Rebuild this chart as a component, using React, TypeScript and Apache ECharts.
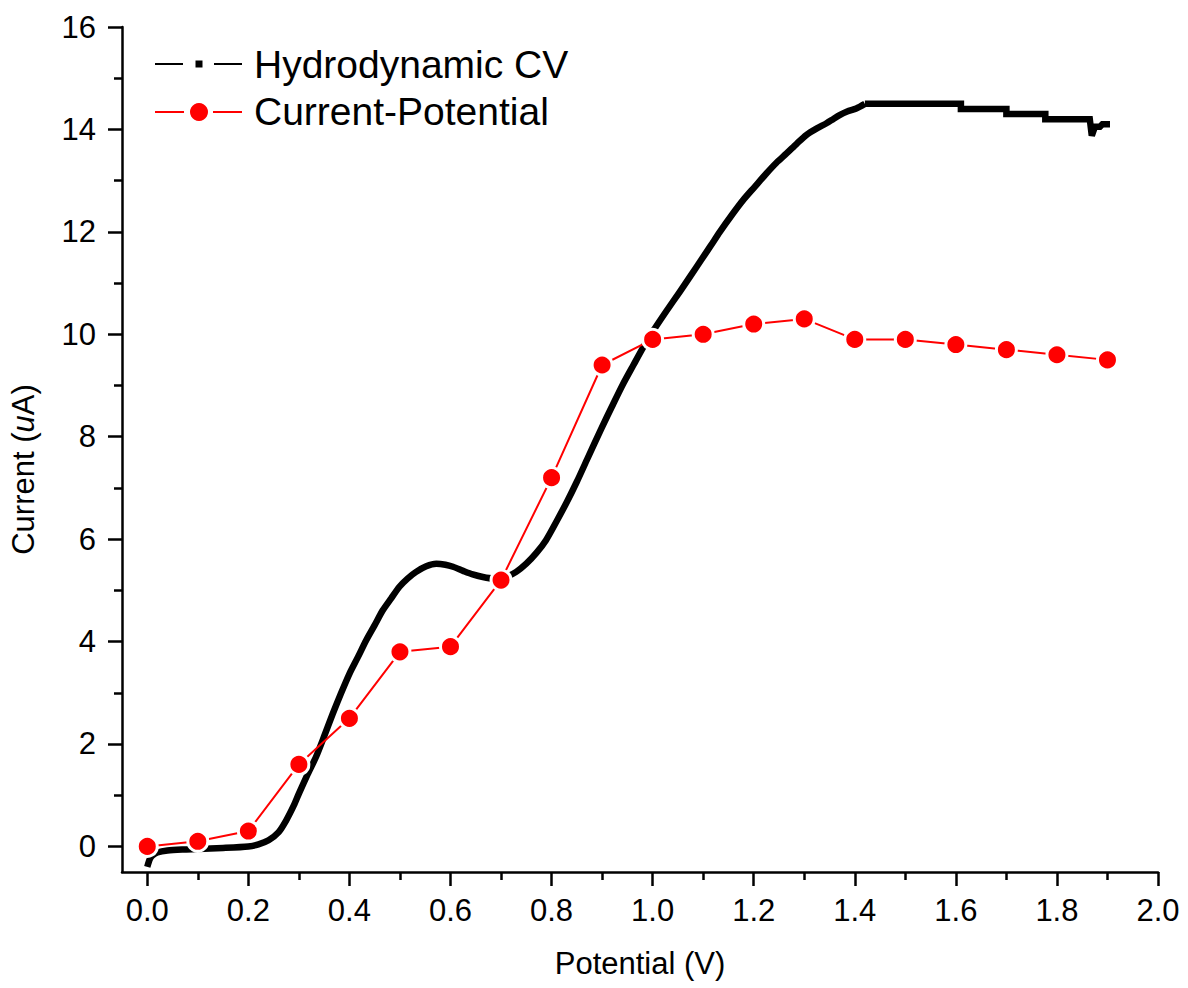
import React, { useEffect, useRef } from 'react';
import * as echarts from 'echarts';

const FONT = '"Liberation Sans", Arial, Helvetica, sans-serif';

const xMajor = [0, 0.2, 0.4, 0.6, 0.8, 1.0, 1.2, 1.4, 1.6, 1.8, 2.0];
const xMinor = [0.1, 0.3, 0.5, 0.7, 0.9, 1.1, 1.3, 1.5, 1.7, 1.9];
const yMajor = [0, 2, 4, 6, 8, 10, 12, 14, 16];
const yMinor = [1, 3, 5, 7, 9, 11, 13, 15];

const legendNames = ['Hydrodynamic CV', 'Current-Potential'];

// Current-Potential (red markers)
const cpPotential = [0, 0.1, 0.2, 0.3, 0.4, 0.5, 0.6, 0.7, 0.8, 0.9, 1.0, 1.1, 1.2, 1.3, 1.4, 1.5, 1.6, 1.7, 1.8, 1.9];
const cpCurrent = [0, 0.1, 0.3, 1.6, 2.5, 3.8, 3.9, 5.2, 7.2, 9.4, 9.9, 10.0, 10.2, 10.3, 9.9, 9.9, 9.8, 9.7, 9.6, 9.5];

// Hydrodynamic CV (black curve) - rising part
const cvRisePotential = [
  0.0, 0.005, 0.01, 0.02, 0.04, 0.07, 0.10, 0.15, 0.20, 0.22, 0.24, 0.26, 0.275, 0.29, 0.30,
  0.317, 0.334, 0.35, 0.367, 0.383, 0.40, 0.417, 0.433, 0.45, 0.466, 0.483, 0.499, 0.515, 0.532,
  0.552, 0.572, 0.59, 0.605, 0.625, 0.644, 0.664, 0.684, 0.70, 0.71, 0.73, 0.75, 0.77, 0.789,
  0.81, 0.83, 0.85, 0.87, 0.898, 0.92, 0.941, 0.962, 0.981, 1.0, 1.027, 1.053, 1.075, 1.096,
  1.115, 1.133, 1.156, 1.179, 1.202, 1.225, 1.245, 1.265, 1.285, 1.304, 1.325, 1.344, 1.357,
  1.370, 1.385, 1.403, 1.42
];
const cvRiseCurrent = [
  -0.40, -0.25, -0.18, -0.12, -0.08, -0.06, -0.05, -0.03, 0.0, 0.04, 0.12, 0.28, 0.51, 0.80, 1.03,
  1.40, 1.75, 2.15, 2.59, 2.98, 3.37, 3.70, 4.02, 4.32, 4.61, 4.85, 5.07, 5.23, 5.36,
  5.47, 5.52, 5.50, 5.46, 5.38, 5.31, 5.26, 5.23, 5.24, 5.26, 5.36, 5.52, 5.73, 5.98,
  6.35, 6.72, 7.12, 7.55, 8.15, 8.6, 9.02, 9.4, 9.74, 10.05, 10.45, 10.82, 11.14, 11.45,
  11.73, 12.0, 12.32, 12.62, 12.88, 13.14, 13.35, 13.53, 13.72, 13.89, 14.02, 14.12, 14.2,
  14.28, 14.35, 14.41, 14.5
];
// Hydrodynamic CV (black curve) - stepped plateau
const cvTailPotential = [1.42, 1.61, 1.61, 1.70, 1.70, 1.777, 1.777, 1.865, 1.869, 1.875, 1.885, 1.89, 1.905];
const cvTailCurrent = [14.5, 14.5, 14.4, 14.4, 14.3, 14.3, 14.2, 14.2, 13.88, 14.05, 14.05, 14.1, 14.1];

export default function App() {
  const ref = useRef<HTMLDivElement>(null);

  useEffect(() => {
    if (!ref.current) return;
    const chart = echarts.init(ref.current, undefined, { renderer: 'svg' });

    const axisLineStyle = { color: '#000', width: 2.5 };
    const labelStyle = { fontSize: 31, color: '#000', fontFamily: FONT };

    const option: any = {
      animation: false,
      backgroundColor: '#fff',
      grid: { left: 122, right: 30, top: 27, bottom: 116, containLabel: false },
      xAxis: [
        {
          type: 'value',
          min: -0.05,
          max: 2.0,
          position: 'bottom',
          axisLine: { show: true, onZero: false, lineStyle: axisLineStyle },
          axisTick: { show: true, inside: false, length: 14, customValues: xMajor, lineStyle: axisLineStyle },
          axisLabel: {
            show: true,
            customValues: xMajor,
            formatter: (v: number) => v.toFixed(1),
            margin: 23,
            ...labelStyle,
          },
          splitLine: { show: false },
          name: 'Potential (V)',
          nameLocation: 'middle',
          nameGap: 76,
          nameTextStyle: { fontSize: 31, color: '#000', fontFamily: FONT },
        },
        {
          type: 'value',
          min: -0.05,
          max: 2.0,
          position: 'bottom',
          axisLine: { show: false, onZero: false },
          axisTick: { show: true, inside: false, length: 8, customValues: xMinor, lineStyle: axisLineStyle },
          axisLabel: { show: false },
          splitLine: { show: false },
        },
      ],
      yAxis: [
        {
          type: 'value',
          min: -0.5,
          max: 16,
          position: 'left',
          axisLine: { show: true, onZero: false, lineStyle: axisLineStyle },
          axisTick: { show: true, inside: false, length: 14, customValues: yMajor, lineStyle: axisLineStyle },
          axisLabel: {
            show: true,
            customValues: yMajor,
            formatter: (v: number) => String(v),
            margin: 26,
            ...labelStyle,
          },
          splitLine: { show: false },
          name: 'Current ({i|u}A)',
          nameLocation: 'middle',
          nameGap: 83,
          nameTextStyle: {
            fontSize: 31,
            color: '#000',
            fontFamily: FONT,
            padding: [0, 40, 0, 0],
            rich: {
              i: { fontSize: 31, color: '#000', fontFamily: FONT, fontStyle: 'italic' },
            },
          },
        },
        {
          type: 'value',
          min: -0.5,
          max: 16,
          position: 'left',
          axisLine: { show: false, onZero: false },
          axisTick: { show: true, inside: false, length: 8, customValues: yMinor, lineStyle: axisLineStyle },
          axisLabel: { show: false },
          splitLine: { show: false },
        },
      ],
      graphic: [
        // legend entry 1
        { type: 'line', shape: { x1: 155, y1: 64, x2: 183, y2: 64 }, style: { stroke: '#000', lineWidth: 2 } },
        { type: 'rect', shape: { x: 195.5, y: 60.5, width: 7, height: 7 }, style: { fill: '#000' } },
        { type: 'line', shape: { x1: 214, y1: 64, x2: 242, y2: 64 }, style: { stroke: '#000', lineWidth: 2 } },
        {
          type: 'text',
          x: 254,
          y: 64,
          style: { text: legendNames[0], fontSize: 39, fontFamily: FONT, fill: '#000', verticalAlign: 'middle' },
        },
        // legend entry 2
        { type: 'line', shape: { x1: 155, y1: 112, x2: 184, y2: 112 }, style: { stroke: '#ff0000', lineWidth: 2 } },
        { type: 'circle', shape: { cx: 199, cy: 112, r: 9 }, style: { fill: '#ff0000' } },
        { type: 'line', shape: { x1: 213, y1: 112, x2: 242, y2: 112 }, style: { stroke: '#ff0000', lineWidth: 2 } },
        {
          type: 'text',
          x: 254,
          y: 111,
          style: { text: legendNames[1], fontSize: 39, fontFamily: FONT, fill: '#000', verticalAlign: 'middle' },
        },
      ],
      series: [
        {
          type: 'line',
          name: legendNames[0],
          xAxisIndex: 0,
          yAxisIndex: 0,
          data: cvRisePotential.map((x, i) => [x, cvRiseCurrent[i]]),
          symbol: 'none',
          showSymbol: false,
          silent: true,
          smooth: 0.25,
          lineStyle: { color: '#000', width: 6.5, join: 'round' },
          z: 2,
        },
        {
          type: 'line',
          name: legendNames[0],
          xAxisIndex: 0,
          yAxisIndex: 0,
          data: cvTailPotential.map((x, i) => [x, cvTailCurrent[i]]),
          symbol: 'none',
          showSymbol: false,
          silent: true,
          lineStyle: { color: '#000', width: 6.5, join: 'miter' },
          z: 2,
        },
        {
          type: 'line',
          name: legendNames[1],
          xAxisIndex: 0,
          yAxisIndex: 0,
          data: cpPotential.map((x, i) => [x, cpCurrent[i]]),
          symbol: 'circle',
          symbolSize: 20,
          silent: true,
          itemStyle: { color: '#ff0000', borderColor: '#ffffff', borderWidth: 3 },
          lineStyle: { color: '#ff0000', width: 2 },
          z: 3,
        },
      ],
    };

    chart.setOption(option);
    return () => chart.dispose();
  }, []);

  return (
    <div
      ref={ref}
      style={{ position: 'absolute', left: 0, top: 0, width: 1188, height: 988, background: '#fff' }}
    />
  );
}
